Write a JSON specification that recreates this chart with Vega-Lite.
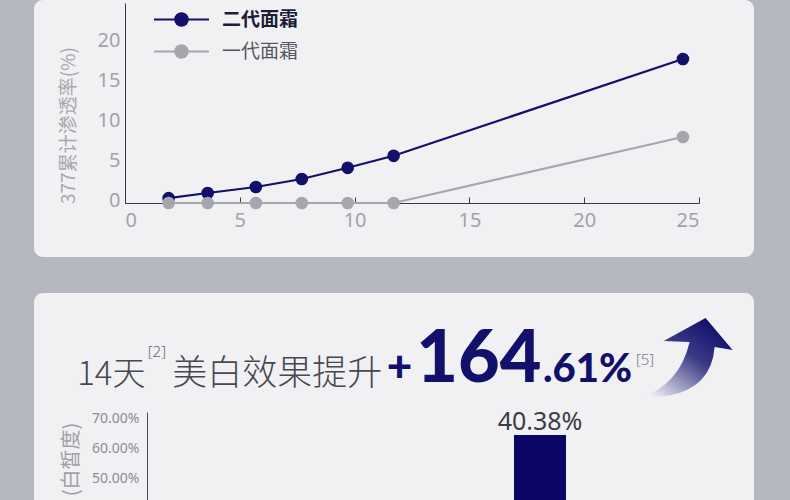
{
  "$schema": "https://vega.github.io/schema/vega-lite/v6.json",
  "description": "377 cumulative penetration line chart and 14-day whitening card",
  "background": "#b6b8c1",
  "padding": {"left": 34, "top": 0, "right": 36, "bottom": 0},
  "spacing": 36,
  "vconcat": [
    {
      "width": 720,
      "height": 257,
      "data": {
        "values": [
          {"时间": 1.9, "渗透率": 0.6, "产品": "二代面霜"},
          {"时间": 3.6, "渗透率": 1.25, "产品": "二代面霜"},
          {"时间": 5.7, "渗透率": 2.0, "产品": "二代面霜"},
          {"时间": 7.7, "渗透率": 3.0, "产品": "二代面霜"},
          {"时间": 9.7, "渗透率": 4.4, "产品": "二代面霜"},
          {"时间": 11.7, "渗透率": 5.9, "产品": "二代面霜"},
          {"时间": 24.3, "渗透率": 18.0, "产品": "二代面霜"},
          {"时间": 1.9, "渗透率": 0, "产品": "一代面霜"},
          {"时间": 3.6, "渗透率": 0, "产品": "一代面霜"},
          {"时间": 5.7, "渗透率": 0, "产品": "一代面霜"},
          {"时间": 7.7, "渗透率": 0, "产品": "一代面霜"},
          {"时间": 9.7, "渗透率": 0, "产品": "一代面霜"},
          {"时间": 11.7, "渗透率": 0, "产品": "一代面霜"},
          {"时间": 24.3, "渗透率": 8.25, "产品": "一代面霜"}
        ]
      },
      "mark": {"type": "line", "strokeWidth": 2.2, "point": {"filled": true, "size": 160, "opacity": 1}},
      "encoding": {
        "x": {
          "field": "时间",
          "type": "quantitative",
          "scale": {"domain": [0, 25], "range": [91, 665]},
          "axis": {
            "values": [0, 5, 10, 15, 20, 25],
            "offset": -54,
            "title": null,
            "grid": false,
            "domainColor": "#3a3a4c",
            "tickColor": "#3a3a4c",
            "tickSize": -6,
            "labelPadding": 13,
            "labelFontSize": 20,
            "labelColor": "#a2a2aa",
            "labelFont": "Noto Sans"
          }
        },
        "y": {
          "field": "渗透率",
          "type": "quantitative",
          "scale": {"domain": [0, 25], "range": [203, 3]},
          "axis": {
            "values": [0, 5, 10, 15, 20],
            "offset": -91,
            "grid": false,
            "ticks": false,
            "domainColor": "#3a3a4c",
            "labelPadding": 5,
            "labelOffset": -3,
            "labelFontSize": 20,
            "labelColor": "#a2a2aa",
            "labelFont": "Noto Sans",
            "title": "377累计渗透率(%)",
            "titleFont": "Noto Sans CJK SC",
            "titleFontWeight": "normal",
            "titleFontSize": 19,
            "titleColor": "#a8a8b0",
            "titlePadding": 19,
            "titleY": 125
          }
        },
        "color": {
          "field": "产品",
          "type": "nominal",
          "scale": {"domain": ["二代面霜", "一代面霜"], "range": ["#12106a", "#a6a6ae"]},
          "legend": {
            "title": null,
            "orient": "none",
            "legendX": 136,
            "legendY": 8,
            "padding": 0,
            "symbolType": "M-2.75,0L2.75,0M-0.62,0A0.62,0.62 0 1,0 0.62,0A0.62,0.62 0 1,0 -0.62,0Z",
            "symbolSize": 400,
            "symbolStrokeWidth": 2.2,
            "labelOffset": 29,
            "rowPadding": 9,
            "labelFont": "Noto Sans CJK SC",
            "labelFontSize": 19,
            "encode": {
              "symbols": {"update": {"fill": {"scale": "color", "field": "value"}}},
              "labels": {
                "update": {
                  "fontWeight": {"signal": "datum.value === '二代面霜' ? 'bold' : 'normal'"},
                  "fill": {"signal": "datum.value === '二代面霜' ? '#1c1c38' : '#55555f'"}
                }
              }
            }
          }
        },
        "order": {"field": "时间", "type": "quantitative"}
      }
    },
    {
      "width": 720,
      "height": 260,
      "layer": [
        {
          "data": {"values": [{"组": "二代面霜", "白皙度": 0.643, "标签": "40.38%"}]},
          "encoding": {
            "x": {
              "field": "组",
              "type": "nominal",
              "scale": {"range": [480, 532], "paddingInner": 0, "paddingOuter": 0},
              "axis": null
            },
            "y": {
              "field": "白皙度",
              "type": "quantitative",
              "scale": {"domain": [0.25, 0.72], "range": [260, 119]},
              "axis": {
                "values": [0.5, 0.6, 0.7],
                "format": ".2%",
                "offset": -113,
                "grid": false,
                "ticks": false,
                "domainColor": "#4a4a55",
                "labelPadding": 8,
                "labelFontSize": 14,
                "labelColor": "#8c8c94",
                "labelFont": "Noto Sans",
                "title": "(白皙度)",
                "titleFont": "Noto Sans CJK SC",
                "titleFontWeight": "normal",
                "titleFontSize": 20,
                "titleColor": "#a0a0a8",
                "titlePadding": 10,
                "titleY": 166
              }
            }
          },
          "layer": [
            {"mark": {"type": "bar", "color": "#0c0766", "clip": true}},
            {
              "mark": {"type": "text", "baseline": "alphabetic", "dy": -5, "fontSize": 25, "font": "Noto Sans", "color": "#3c3c46"},
              "encoding": {"text": {"field": "标签"}}
            }
          ]
        },
        {
          "encoding": {
            "x": {"type": "quantitative", "scale": {"domain": [0, 100]}, "axis": null},
            "y": {"type": "quantitative", "scale": {"domain": [0, 100], "reverse": true}, "axis": null}
          },
          "layer": [
            {
              "data": {"values": [{"文字": "14天"}]},
              "mark": {"type": "text", "align": "left", "baseline": "alphabetic", "fontSize": 33, "fontWeight": 300, "font": "Noto Sans CJK SC", "color": "#474852"},
              "encoding": {"x": {"datum": 6.0}, "y": {"datum": 35.2}, "text": {"field": "文字"}}
            },
            {
              "data": {"values": [{"文字": "[2]"}]},
              "mark": {"type": "text", "align": "left", "baseline": "alphabetic", "fontSize": 15, "fontWeight": 300, "font": "Noto Sans", "color": "#6a6a74"},
              "encoding": {"x": {"datum": 15.8}, "y": {"datum": 24.6}, "text": {"field": "文字"}}
            },
            {
              "data": {"values": [{"文字": "美白效果提升"}]},
              "mark": {"type": "text", "align": "left", "baseline": "alphabetic", "fontSize": 35, "fontWeight": 300, "font": "Noto Sans CJK SC", "color": "#474852"},
              "encoding": {"x": {"datum": 19.2}, "y": {"datum": 35.2}, "text": {"field": "文字"}}
            },
            {
              "data": {"values": [{"文字": "+"}]},
              "mark": {"type": "text", "align": "left", "baseline": "alphabetic", "fontSize": 44, "fontWeight": 900, "font": "Lato", "color": "#12106a"},
              "encoding": {"x": {"datum": 49.0}, "y": {"datum": 34.2}, "text": {"field": "文字"}}
            },
            {
              "data": {"values": [{"文字": "164"}]},
              "mark": {"type": "text", "align": "left", "baseline": "alphabetic", "fontSize": 72, "fontWeight": 900, "font": "Lato", "color": "#12106a"},
              "encoding": {"x": {"datum": 53.1}, "y": {"datum": 34.2}, "text": {"field": "文字"}}
            },
            {
              "data": {"values": [{"文字": ".61%"}]},
              "mark": {"type": "text", "align": "left", "baseline": "alphabetic", "fontSize": 40, "fontWeight": 900, "font": "Lato", "color": "#12106a"},
              "encoding": {"x": {"datum": 70.7}, "y": {"datum": 34.2}, "text": {"field": "文字"}}
            },
            {
              "data": {"values": [{"文字": "[5]"}]},
              "mark": {"type": "text", "align": "left", "baseline": "alphabetic", "fontSize": 15, "fontWeight": 300, "font": "Noto Sans", "color": "#7a7a84"},
              "encoding": {"x": {"datum": 83.6}, "y": {"datum": 27.7}, "text": {"field": "文字"}}
            },
            {
              "data": {"values": [{"图形": "箭头"}]},
              "mark": {
                "type": "point",
                "filled": true,
                "opacity": 1,
                "size": 10000,
                "shape": "M0.40,-0.80L-0.44,-0.34L0.08,-0.32Q-0.12,0.54 -0.92,0.80L-0.36,0.76Q0.52,0.60 0.58,-0.22L0.94,-0.16Z",
                "color": {
                  "gradient": "linear",
                  "x1": 0.8, "y1": 0.1, "x2": 0.1, "y2": 0.95,
                  "stops": [
                    {"offset": 0, "color": "#14126c"},
                    {"offset": 0.4, "color": "#3b3a86"},
                    {"offset": 1, "color": "#f0f0f4"}
                  ]
                }
              },
              "encoding": {"x": {"datum": 90.5}, "y": {"datum": 25.0}}
            }
          ]
        }
      ],
      "resolve": {"scale": {"x": "independent", "y": "independent"}}
    }
  ],
  "config": {
    "view": {"stroke": null, "fill": "#f1f1f3", "cornerRadius": 9},
    "font": "Noto Sans CJK SC"
  }
}
